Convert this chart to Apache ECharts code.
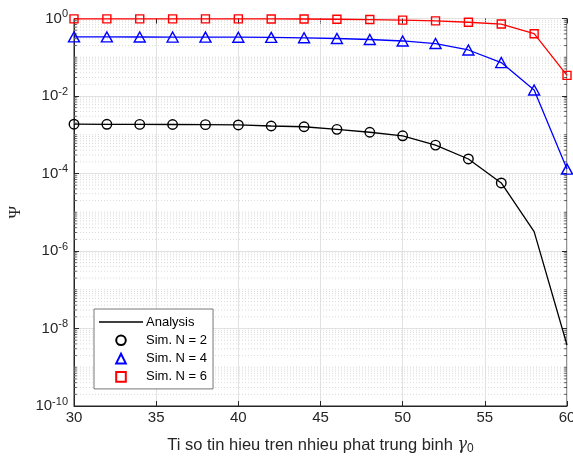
<!DOCTYPE html>
<html><head><meta charset="utf-8">
<script src="https://cdn.jsdelivr.net/npm/echarts@6/dist/echarts.min.js"></script>
<style>html,body{margin:0;padding:0;background:#fff}#c{width:573px;height:457px}</style>
</head><body><div id="c"></div>
<script>
// ---- data ----
const snr = [30,32,34,36,38,40,42,44,46,48,50,52,54,56,58,60];
const anaN2 = [1.87e-3,1.86e-3,1.85e-3,1.84e-3,1.82e-3,1.79e-3,1.68e-3,1.61e-3,1.38e-3,1.16e-3,9.4e-4,5.4e-4,2.37e-4,5.7e-5,3.15e-6,3.75e-9];
const anaN4 = [0.335,0.334,0.333,0.332,0.331,0.329,0.325,0.318,0.305,0.287,0.263,0.226,0.154,0.073,0.0143,1.3e-4];
const anaN6 = [0.98,0.98,0.98,0.98,0.98,0.98,0.975,0.97,0.955,0.94,0.91,0.87,0.80,0.72,0.405,0.034];
const simSnrN2 = [30,32,34,36,38,40,42,44,46,48,50,52,54,56];
const simN2 = [1.87e-3,1.86e-3,1.85e-3,1.84e-3,1.82e-3,1.79e-3,1.68e-3,1.61e-3,1.38e-3,1.16e-3,9.4e-4,5.4e-4,2.37e-4,5.7e-5];
const simN4 = [0.335,0.334,0.333,0.332,0.331,0.329,0.325,0.318,0.305,0.287,0.263,0.226,0.154,0.073,0.0143,1.3e-4];
const simN6 = [0.98,0.98,0.98,0.98,0.98,0.98,0.975,0.97,0.955,0.94,0.91,0.87,0.80,0.72,0.405,0.034];
const legendNames = ['Analysis','Sim. N = 2','Sim. N = 4','Sim. N = 6'];
const xLabel = 'Ti so tin hieu tren nhieu phat trung binh ';
const yLabel = 'Ψ';

const pairs = (xs, ys) => xs.map((x, i) => [x, ys[i]]);
const FONT = 'Liberation Sans, Arial, Helvetica, sans-serif';
const AX = '#262626';
const X0 = 30, X1 = 60;

// minor (dotted) grid values: m x 10^k that are not major ticks
const minorVals = [];
for (let k = -10; k < 0; k++) {
  for (let m = 1; m <= 9; m++) {
    if (m === 1 && k % 2 === 0) continue;
    minorVals.push(m * Math.pow(10, k));
  }
}

const decoSeries = [];
minorVals.forEach(v => {
  decoSeries.push({
    type: 'line', data: [[X0, v], [X1, v]], symbol: 'none', silent: true, z: 1,
    lineStyle: {type: [1, 2], color: '#dadada', width: 1}
  });
  decoSeries.push({
    type: 'line', data: [[X0, v], [X0 + 0.17, v]], symbol: 'none', silent: true, z: 2,
    lineStyle: {color: AX, width: 0.8}
  });
  decoSeries.push({
    type: 'line', data: [[X1 - 0.17, v], [X1, v]], symbol: 'none', silent: true, z: 2,
    lineStyle: {color: AX, width: 0.8}
  });
});

const chart = echarts.init(document.getElementById('c'));
const lineSeries = (name, ys, color) => ({
  name, type: 'line', data: pairs(snr, ys), symbol: 'none', z: 3,
  lineStyle: {color, width: 1.3}, itemStyle: {color}
});
const simSeries = (name, xs, ys, symbol, size, color) => ({
  name, type: 'line', data: pairs(xs, ys), symbol, symbolSize: size, z: 4,
  showAllSymbol: true,
  lineStyle: {width: 0, opacity: 0},
  itemStyle: {color: 'rgba(0,0,0,0)', borderColor: color, borderWidth: 1.4}
});

chart.setOption({
  animation: false,
  backgroundColor: '#fff',
  grid: {left: 74, right: 6, top: 18.5, bottom: 51, show: true, borderColor: AX, borderWidth: 1,
         backgroundColor: 'transparent', containLabel: false, outerBoundsMode: 'none'},
  legend: {
    data: [
      {name: legendNames[0], icon: 'path://M0,0 H44 V1.3 H0 Z', itemStyle: {color: '#000', borderWidth: 0}},
      {name: legendNames[1]}, {name: legendNames[2]}, {name: legendNames[3]}
    ],
    orient: 'vertical', left: 94, top: 309,
    itemWidth: 44, itemHeight: 12, itemGap: 4.3,
    padding: [6, 6, 5, 5],
    backgroundColor: '#fff', borderColor: '#555', borderWidth: 0.8,
    textStyle: {fontFamily: FONT, fontSize: 13, color: '#000', lineHeight: 14, padding: [0, 0, 0, -2]},
    selectedMode: false
  },
  xAxis: [{
    type: 'value', min: X0, max: X1, interval: 5,
    axisLine: {show: true, lineStyle: {color: AX, width: 1}},
    axisTick: {inside: true, length: 5, lineStyle: {color: AX}},
    axisLabel: {fontFamily: FONT, fontSize: 15, color: AX, margin: 4},
    splitLine: {show: true, lineStyle: {color: '#e2e2e2', width: 1}},
    name: '{t|' + xLabel + '}{g|γ}{u|0}', nameLocation: 'middle', nameGap: 29,
    nameTextStyle: {fontFamily: FONT, fontSize: 16.5, color: AX, rich: {
      t: {fontFamily: FONT, fontSize: 16.5, color: AX},
      g: {fontFamily: 'DejaVu Serif, serif', fontStyle: 'italic', fontSize: 16, color: AX},
      u: {fontFamily: FONT, fontSize: 12, color: AX, padding: [8, 0, 0, 0]}
    }}
  }, {
    type: 'value', min: X0, max: X1, interval: 5, position: 'top',
    axisLine: {show: false}, axisLabel: {show: false}, splitLine: {show: false},
    axisTick: {inside: true, length: 5, lineStyle: {color: AX}}
  }],
  yAxis: [{
    type: 'log', logBase: 10, min: 1e-10, max: 1, interval: 2,
    axisLine: {show: true, lineStyle: {color: AX, width: 1}},
    axisTick: {inside: true, length: 5, lineStyle: {color: AX}},
    axisLabel: {
      margin: 6, color: AX,
      formatter: v => '{b|10}{s|' + Math.round(Math.log10(v)) + '}',
      rich: {
        b: {fontFamily: FONT, fontSize: 15, color: AX},
        s: {fontFamily: FONT, fontSize: 11, color: AX, padding: [0, 0, 9, 0]}
      }
    },
    splitLine: {show: true, lineStyle: {color: '#e2e2e2', width: 1}},
    name: yLabel, nameLocation: 'middle', nameGap: 45, nameRotate: 90,
    nameTextStyle: {fontFamily: 'Liberation Serif, serif', fontSize: 17, color: AX}
  }, {
    type: 'log', logBase: 10, min: 1e-10, max: 1, interval: 2, position: 'right',
    axisLine: {show: false}, axisLabel: {show: false}, splitLine: {show: false},
    axisTick: {inside: true, length: 5, lineStyle: {color: AX}}
  }],
  series: decoSeries.concat([
    lineSeries('Analysis', anaN2, '#000000'),
    lineSeries('Analysis N = 4', anaN4, '#0000ff'),
    lineSeries('Analysis N = 6', anaN6, '#ff0000'),
    simSeries('Sim. N = 2', simSnrN2, simN2, 'circle', 9.5, '#000000'),
    simSeries('Sim. N = 4', snr, simN4, 'triangle', [11, 10], '#0000ff'),
    simSeries('Sim. N = 6', snr, simN6, 'rect', 8, '#ff0000')
  ])
});
</script>
</body></html>
